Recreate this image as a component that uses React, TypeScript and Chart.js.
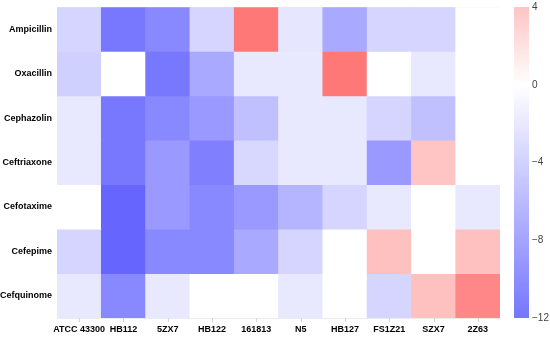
import React, { useEffect, useRef } from "react";
import { Chart, registerables } from "chart.js";

Chart.register(...registerables);

const strains = ["ATCC 43300", "HB112", "5ZX7", "HB122", "161813", "N5", "HB127", "FS1Z21", "SZX7", "2Z63"];
const antibiotics = ["Ampicillin", "Oxacillin", "Cephazolin", "Ceftriaxone", "Cefotaxime", "Cefepime", "Cefquinome"];

const ampicillin = [-3.7, -12, -10.6, -3.7, 9.8, -2.2, -7.6, -3.7, -3.7, 0];
const oxacillin = [-4.2, 0, -12, -7.6, -2.0, -2.0, 9.8, 0, -2.0, 0];
const cephazolin = [-2.0, -12, -10.6, -9.1, -5.6, -2.0, -2.0, -3.7, -5.6, 0];
const ceftriaxone = [-2.0, -12, -9.1, -11.3, -3.5, -2.0, -2.0, -9.1, 4.3, 0];
const cefotaxime = [0, -13.6, -9.1, -10.6, -9.1, -6.6, -3.7, -2.0, 0, -2.0];
const cefepime = [-3.7, -13.6, -10.6, -10.6, -7.6, -3.7, 0, 4.6, 0, 4.6];
const cefquinome = [-2.0, -10.6, -2.0, 0, 0, -2.0, 0, -3.7, 4.6, 8.7];

const rows = [ampicillin, oxacillin, cephazolin, ceftriaxone, cefotaxime, cefepime, cefquinome];

const colorbarTicks = [4, 0, -4, -8, -12];

function colorFor(v: number): string {
  if (v >= 0) {
    const d = Math.min(255, Math.round(v * 13.75));
    return `rgb(255, ${255 - d}, ${255 - d})`;
  }
  const d = Math.min(255, Math.round(-v * 11.25));
  return `rgb(${255 - d}, ${255 - d}, 255)`;
}

const extrasPlugin = {
  id: "extras",
  afterDraw(chart: any) {
    const ctx = chart.ctx;
    const x = chart.scales.x;
    const cb = chart.scales.cb;
    const area = chart.chartArea;
    ctx.save();
    // x tick marks at centers
    ctx.strokeStyle = "#d4d4d4";
    ctx.lineWidth = 1;
    for (let i = 0; i < strains.length; i++) {
      const px = Math.round(x.getPixelForValue(i)) + 0.5;
      ctx.beginPath();
      ctx.moveTo(px, area.bottom);
      ctx.lineTo(px, area.bottom + 4);
      ctx.stroke();
    }
    // colorbar
    const top = cb.getPixelForValue(4);
    const bottom = cb.getPixelForValue(-12);
    const zero = cb.getPixelForValue(0);
    const left = area.right + 14;
    const width = 15;
    const g = ctx.createLinearGradient(0, top, 0, bottom);
    g.addColorStop(0, "#ffc4c4");
    g.addColorStop((zero - top) / (bottom - top), "#ffffff");
    g.addColorStop(1, "#7676ff");
    ctx.fillStyle = g;
    ctx.fillRect(left, top, width, bottom - top);
    ctx.restore();
  },
};

export default function App() {
  const ref = useRef<HTMLCanvasElement | null>(null);

  useEffect(() => {
    document.body.style.margin = "0";
    const datasets = rows.map((vals, r) => ({
      label: antibiotics[r],
      data: vals.map(() => [r, r + 1] as [number, number]),
      backgroundColor: vals.map((v) => colorFor(v)),
      borderWidth: 0,
      barPercentage: 1,
      categoryPercentage: 1,
      grouped: false,
      yAxisID: "y",
    }));

    const chart = new Chart(ref.current!, {
      type: "bar",
      data: { labels: strains, datasets },
      options: {
        responsive: false,
        animation: false,
        layout: { padding: { top: 7, left: 0, right: 0, bottom: 0 } },
        plugins: { legend: { display: false }, tooltip: { enabled: false } },
        scales: {
          x: {
            type: "category",
            z: 1,
            grid: { offset: true, color: "#ececec", drawTicks: false },
            border: { display: false },
            ticks: {
              padding: 6,
              color: "#000",
              font: { family: "Liberation Sans, Arial, sans-serif", size: 9, weight: "bold" },
              maxRotation: 0,
              autoSkip: false,
            },
            afterFit: (s: any) => {
              s.height = 19;
            },
          },
          y: {
            type: "linear",
            position: "left",
            min: 0,
            max: 7,
            reverse: true,
            z: 1,
            afterBuildTicks: (s: any) => {
              const t = [];
              for (let i = 0; i <= 14; i++) t.push({ value: i / 2 });
              s.ticks = t;
            },
            grid: {
              drawTicks: true,
              tickLength: 5,
              tickColor: "rgba(0,0,0,0)",
              color: (c: any) => (c.tick && c.tick.value % 1 === 0 ? "#ececec" : "rgba(0,0,0,0)"),
            },
            border: { display: false },
            ticks: {
              padding: 0,
              color: "#000",
              autoSkip: false,
              font: { family: "Liberation Sans, Arial, sans-serif", size: 9, weight: "bold" },
              callback: (v: any) => (v % 1 === 0.5 ? antibiotics[Math.floor(v)] : ""),
            },
            afterFit: (s: any) => {
              s.width = 57;
            },
          },
          cb: {
            type: "linear",
            position: "right",
            min: -12,
            max: 4,
            afterBuildTicks: (s: any) => {
              s.ticks = colorbarTicks.map((v) => ({ value: v }));
            },
            grid: { display: false, drawTicks: true, tickLength: 32 },
            border: { display: false },
            ticks: {
              padding: 0,
              color: "#444",
              font: { family: "Liberation Sans, Arial, sans-serif", size: 10 },
              callback: (v: any) => (v < 0 ? "\u2212" + Math.abs(v) : String(v)),
            },
            afterFit: (s: any) => {
              s.width = 50;
            },
          },
        },
      },
      plugins: [extrasPlugin],
    } as any);
    return () => chart.destroy();
  }, []);

  return (
    <div style={{ position: "absolute", left: 0, top: 0, width: 550, height: 337 }}>
      <canvas ref={ref} width={550} height={337} style={{ width: 550, height: 337 }} />
    </div>
  );
}
